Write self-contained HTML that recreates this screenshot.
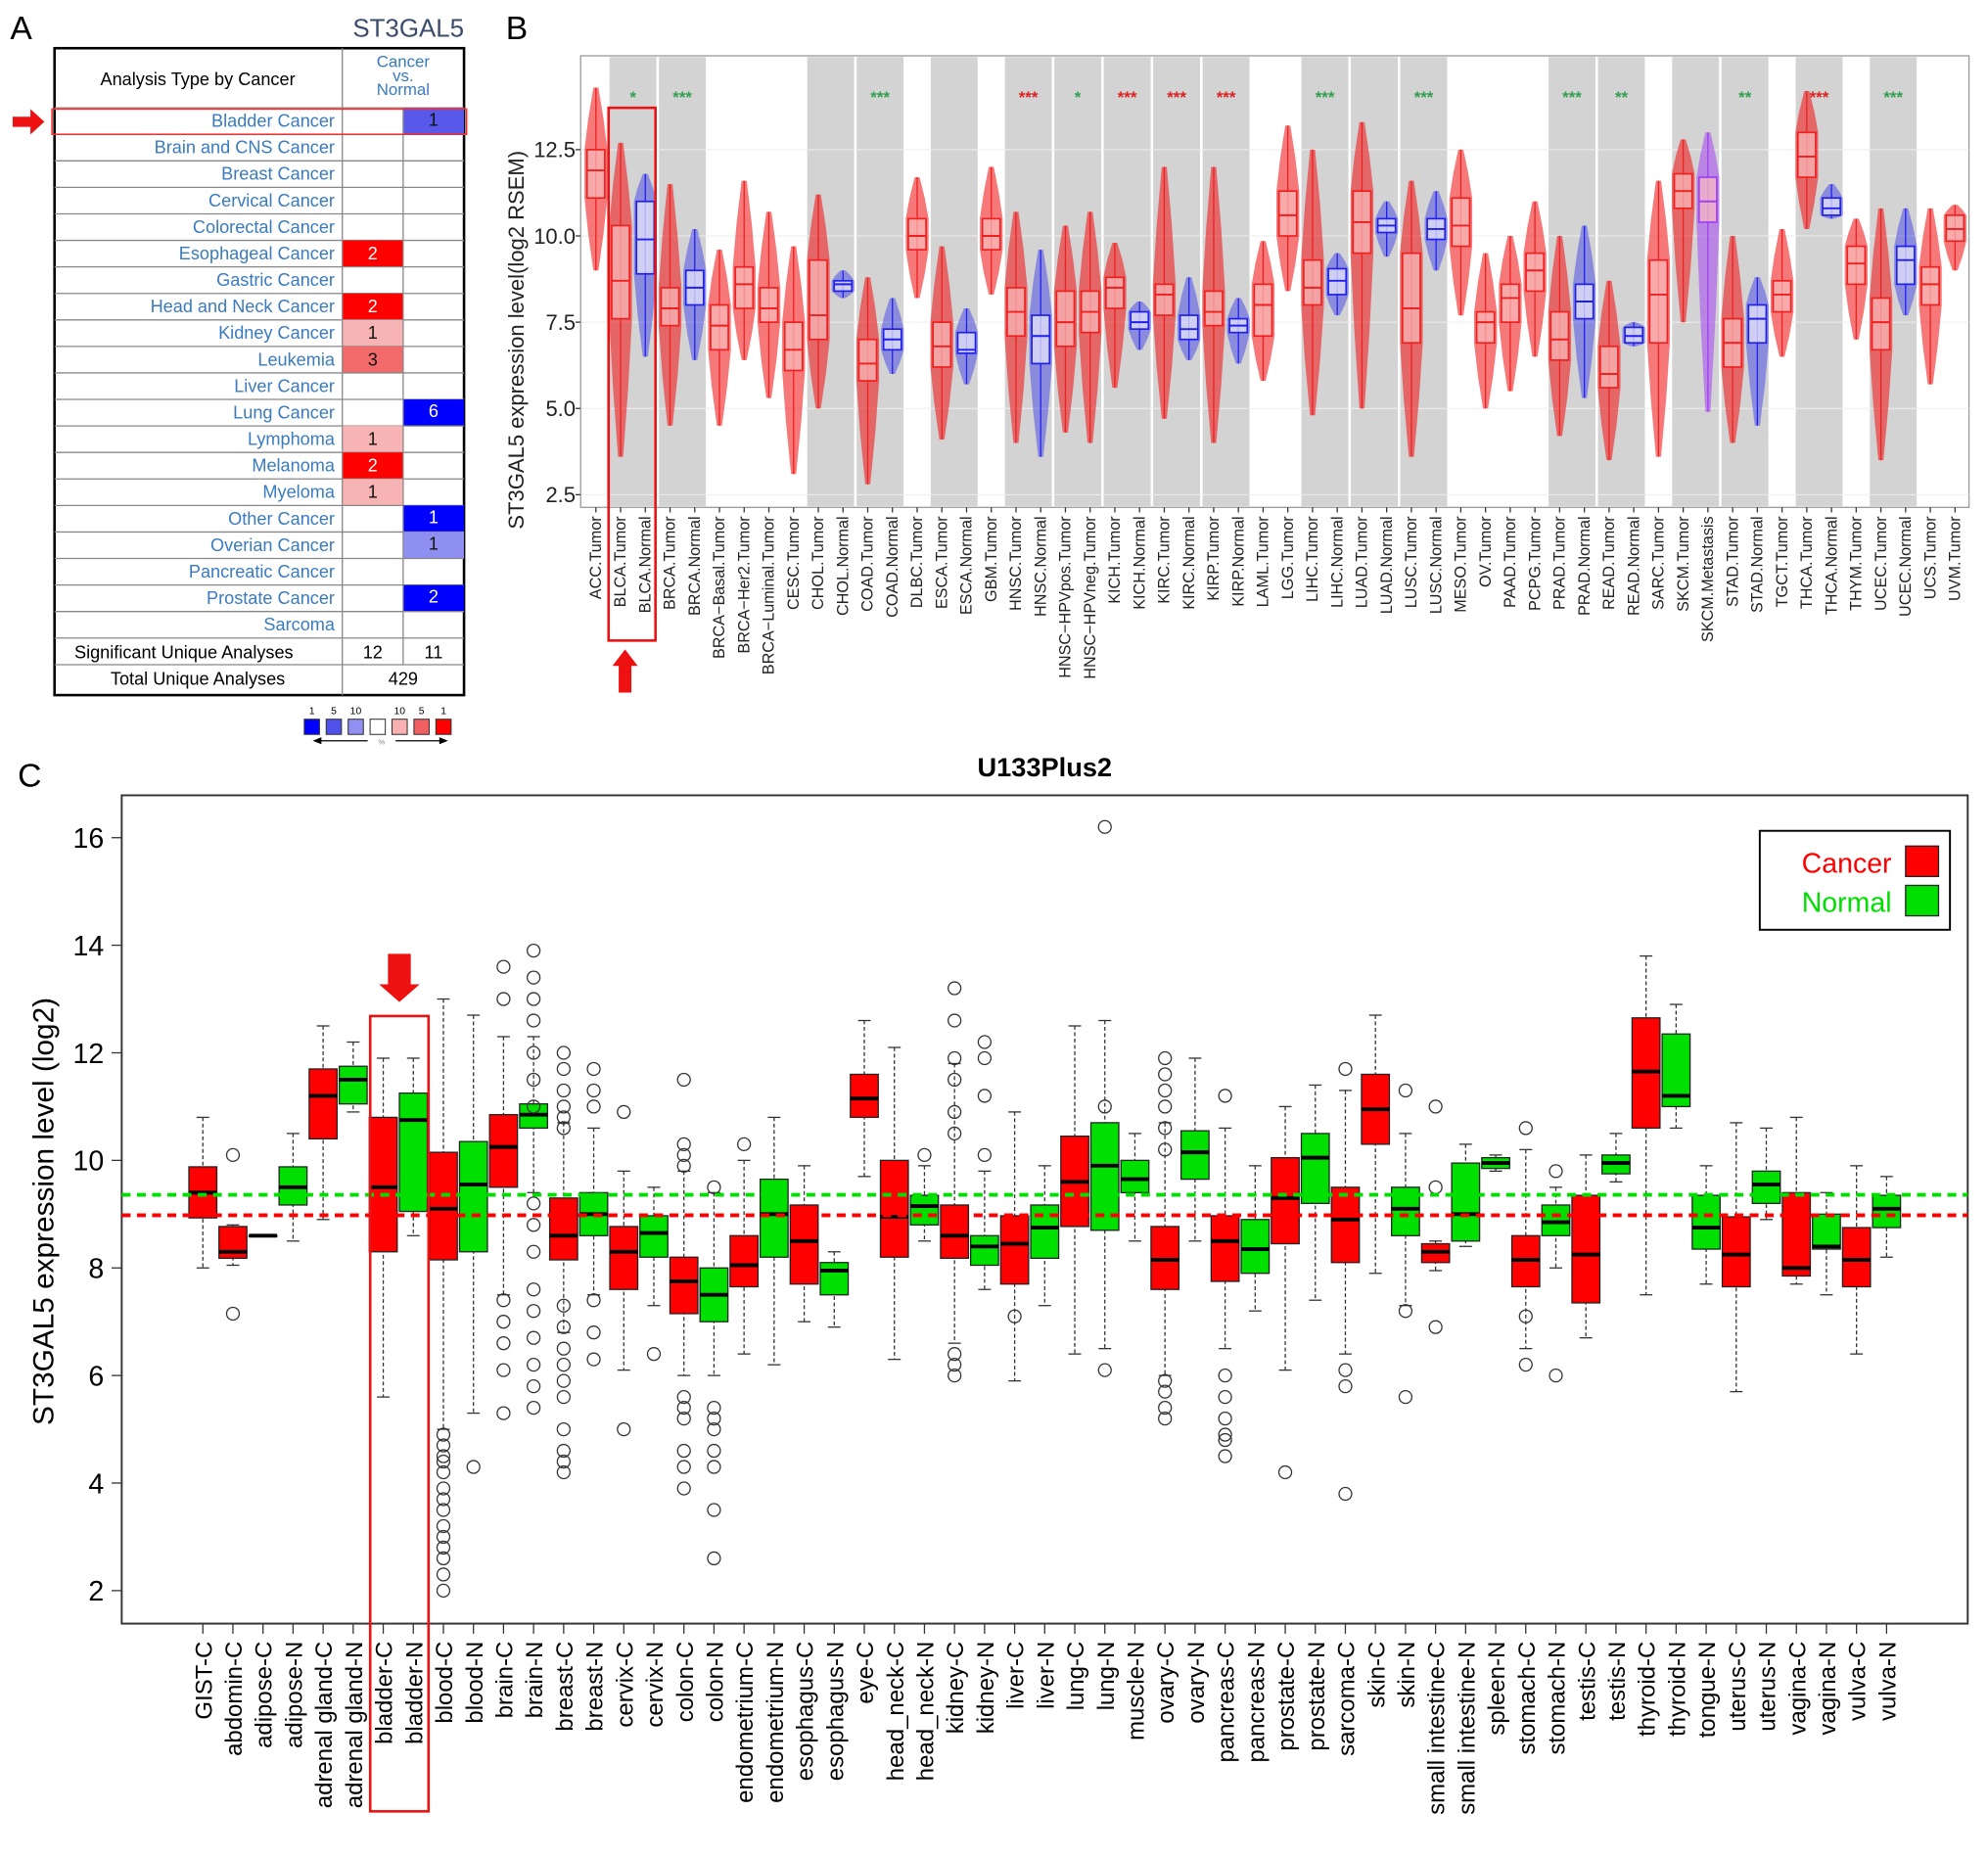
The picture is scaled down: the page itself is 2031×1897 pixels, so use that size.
<!DOCTYPE html>
<html><head><meta charset="utf-8"><style>
html,body{margin:0;padding:0;background:#fff;}
svg{display:block;font-family:"Liberation Sans",Arial,sans-serif;}
</style></head><body>
<svg id="fig" width="2031" height="1897" viewBox="0 0 1568 1464" preserveAspectRatio="none">
<g id="pa"></g>
<g id="pb"></g>
<g id="pc"></g>
</svg>
<script>
// ---------- Panel A data ----------
const aCancers=["Bladder Cancer","Brain and CNS Cancer","Breast Cancer","Cervical Cancer","Colorectal Cancer","Esophageal Cancer","Gastric Cancer","Head and Neck Cancer","Kidney Cancer","Leukemia","Liver Cancer","Lung Cancer","Lymphoma","Melanoma","Myeloma","Other Cancer","Overian Cancer","Pancreatic Cancer","Prostate Cancer","Sarcoma"];
const aUp=[0,0,0,0,0,2,0,2,1,3,0,0,1,2,1,0,0,0,0,0];
const aUpShade=[0,0,0,0,0,3,0,3,1,2,0,0,1,3,1,0,0,0,0,0];
const aDown=[1,0,0,0,0,0,0,0,0,0,0,6,0,0,0,1,1,0,2,0];
const aDownShade=[2,0,0,0,0,0,0,0,0,0,0,3,0,0,0,3,1,0,3,0];
// ---------- Panel B data ----------
const bCats=["ACC.Tumor","BLCA.Tumor","BLCA.Normal","BRCA.Tumor","BRCA.Normal","BRCA\u2212Basal.Tumor","BRCA\u2212Her2.Tumor","BRCA\u2212Luminal.Tumor","CESC.Tumor","CHOL.Tumor","CHOL.Normal","COAD.Tumor","COAD.Normal","DLBC.Tumor","ESCA.Tumor","ESCA.Normal","GBM.Tumor","HNSC.Tumor","HNSC.Normal","HNSC\u2212HPVpos.Tumor","HNSC\u2212HPVneg.Tumor","KICH.Tumor","KICH.Normal","KIRC.Tumor","KIRC.Normal","KIRP.Tumor","KIRP.Normal","LAML.Tumor","LGG.Tumor","LIHC.Tumor","LIHC.Normal","LUAD.Tumor","LUAD.Normal","LUSC.Tumor","LUSC.Normal","MESO.Tumor","OV.Tumor","PAAD.Tumor","PCPG.Tumor","PRAD.Tumor","PRAD.Normal","READ.Tumor","READ.Normal","SARC.Tumor","SKCM.Tumor","SKCM.Metastasis","STAD.Tumor","STAD.Normal","TGCT.Tumor","THCA.Tumor","THCA.Normal","THYM.Tumor","UCEC.Tumor","UCEC.Normal","UCS.Tumor","UVM.Tumor"];
const bMed=[11.9,8.7,9.9,7.9,8.5,7.4,8.6,7.9,6.7,7.7,8.6,6.3,7.0,10.0,6.8,6.7,10.0,7.8,7.1,7.5,7.8,8.5,7.5,8.3,7.3,7.8,7.4,8.0,10.6,8.5,8.7,10.4,10.3,7.9,10.2,10.3,7.5,8.2,9.0,7.0,8.1,6.0,7.1,8.3,11.3,11.0,6.9,7.6,8.3,12.3,10.8,9.2,7.5,9.3,8.6,10.2];
const bQ1=[11.1,7.6,8.9,7.4,8.0,6.7,7.9,7.5,6.1,7.0,8.4,5.8,6.7,9.6,6.2,6.6,9.6,7.1,6.3,6.8,7.2,7.9,7.3,7.7,7.0,7.4,7.2,7.1,10.0,8.0,8.3,9.5,10.1,6.9,9.9,9.7,6.9,7.5,8.4,6.4,7.6,5.6,6.9,6.9,10.8,10.4,6.2,6.9,7.8,11.7,10.6,8.6,6.7,8.6,8.0,9.85];
const bQ3=[12.5,10.3,11.0,8.5,9.0,8.0,9.1,8.5,7.5,9.3,8.7,7.0,7.3,10.5,7.5,7.2,10.5,8.5,7.7,8.4,8.4,8.8,7.8,8.6,7.7,8.4,7.6,8.6,11.3,9.3,9.05,11.3,10.5,9.5,10.5,11.1,7.8,8.6,9.5,7.8,8.6,6.8,7.35,9.3,11.8,11.7,7.6,8.0,8.7,13.0,11.1,9.7,8.2,9.7,9.1,10.6];
const bLo=[9.0,3.6,6.5,4.5,6.4,4.5,6.4,5.3,3.1,5.0,8.2,2.8,6.0,8.2,4.1,5.7,8.3,4.0,3.6,4.3,4.0,5.6,6.7,4.7,6.4,4.0,6.3,5.8,8.4,4.8,7.7,5.0,9.4,3.6,9.0,7.7,5.0,5.5,6.5,4.2,5.3,3.5,6.8,3.6,7.5,4.9,4.0,4.5,6.5,10.2,10.5,7.0,3.5,7.7,5.7,9.0];
const bHi=[14.3,12.7,11.8,11.5,10.2,9.6,11.6,10.7,9.7,11.2,9.0,8.8,8.2,11.7,9.7,7.9,12.0,10.7,9.6,10.3,10.7,9.8,8.1,12.0,8.8,12.0,8.2,9.85,13.2,12.5,9.5,13.3,11.0,11.6,11.3,12.5,9.5,10.0,11.0,10.0,10.3,8.7,7.5,11.6,12.8,13.0,10.0,8.8,10.2,14.2,11.5,10.5,10.8,10.8,10.8,10.9];
const bTicks=[2.5,5.0,7.5,10.0,12.5];
const bStarCats=["BLCA","BRCA","COAD","HNSC","HNSC\u2212HPV","KICH","KIRC","KIRP","LIHC","LUSC","PRAD","READ","STAD","THCA","UCEC"];
const bStars=["*","***","***","***","*","***","***","***","***","***","***","**","**","***","***"];
const bStarUp=[0,0,0,1,0,1,1,1,0,0,0,0,0,1,0];
// ---------- Panel C data ----------
const cCats=["GIST-C","abdomin-C","adipose-C","adipose-N","adrenal gland-C","adrenal gland-N","bladder-C","bladder-N","blood-C","blood-N","brain-C","brain-N","breast-C","breast-N","cervix-C","cervix-N","colon-C","colon-N","endometrium-C","endometrium-N","esophagus-C","esophagus-N","eye-C","head_neck-C","head_neck-N","kidney-C","kidney-N","liver-C","liver-N","lung-C","lung-N","muscle-N","ovary-C","ovary-N","pancreas-C","pancreas-N","prostate-C","prostate-N","sarcoma-C","skin-C","skin-N","small intestine-C","small intestine-N","spleen-N","stomach-C","stomach-N","testis-C","testis-N","thyroid-C","thyroid-N","tongue-N","uterus-C","uterus-N","vagina-C","vagina-N","vulva-C","vulva-N"];
const cMed=[9.4,8.3,8.6,9.5,11.2,11.5,9.5,10.75,9.1,9.55,10.25,10.85,8.6,9.0,8.3,8.65,7.75,7.5,8.05,9.0,8.5,7.95,11.15,8.95,9.15,8.6,8.4,8.45,8.75,9.6,9.9,9.65,8.15,10.15,8.5,8.35,9.3,10.05,8.9,10.95,9.1,8.3,9.0,9.95,8.15,8.85,8.25,9.95,11.65,11.2,8.75,8.25,9.55,8.0,8.4,8.15,9.1];
const cQ1=[8.93,8.18,8.6,9.17,10.4,11.05,8.3,9.05,8.15,8.3,9.5,10.6,8.15,8.6,7.6,8.2,7.15,7.0,7.65,8.2,7.7,7.5,10.8,8.2,8.8,8.18,8.05,7.7,8.18,8.77,8.7,9.4,7.6,9.65,7.75,7.9,8.45,9.2,8.1,10.3,8.6,8.1,8.5,9.85,7.65,8.6,7.35,9.75,10.6,11.0,8.35,7.65,9.2,7.85,8.35,7.65,8.75];
const cQ3=[9.88,8.77,8.6,9.88,11.7,11.75,10.8,11.25,10.15,10.35,10.85,11.05,9.3,9.4,8.77,8.97,8.2,8.0,8.6,9.65,9.17,8.1,11.6,10.0,9.35,9.17,8.6,8.97,9.17,10.45,10.7,10.0,8.77,10.55,8.97,8.9,10.05,10.5,9.5,11.6,9.5,8.45,9.95,10.05,8.6,9.17,9.35,10.1,12.65,12.35,9.35,8.95,9.8,9.4,9.0,8.75,9.35];
const cLo=[8.0,8.05,8.6,8.5,8.9,10.9,5.6,8.6,5.0,5.3,7.5,9.4,6.8,7.5,6.1,7.3,6.0,6.0,6.4,6.2,7.0,6.9,9.7,6.3,8.5,6.6,7.6,5.9,7.3,6.4,6.5,8.5,6.0,8.5,6.5,7.2,6.1,7.4,6.4,7.9,7.3,7.95,8.4,9.8,6.5,8.0,6.7,9.6,7.5,10.6,7.7,5.7,8.9,7.7,7.5,6.4,8.2];
const cHi=[10.8,8.8,8.6,10.5,12.5,12.2,11.9,11.9,13.0,12.7,12.3,12.3,10.7,10.6,9.8,9.5,9.8,9.4,10.0,10.8,9.9,8.3,12.6,12.1,9.9,11.8,9.8,10.9,9.9,12.5,12.6,10.5,10.7,11.9,10.6,9.9,11.0,11.4,11.3,12.7,10.5,8.5,10.3,10.1,10.2,9.5,10.1,10.5,13.8,12.9,9.9,10.7,10.6,10.8,9.4,9.9,9.7];
const cOutCat=[1,1,8,8,8,8,8,8,8,8,8,8,8,8,8,8,9,10,10,10,10,10,10,10,11,11,11,11,11,11,11,11,11,11,11,11,11,11,11,11,12,12,12,12,12,12,12,12,12,12,12,12,12,12,12,12,13,13,13,13,13,13,14,14,15,16,16,16,16,16,16,16,16,16,16,17,17,17,17,17,17,17,17,18,24,25,25,25,25,25,25,25,25,25,26,26,26,26,27,30,30,30,32,32,32,32,32,32,32,32,32,32,34,34,34,34,34,34,34,36,38,38,38,38,40,40,40,41,41,41,44,44,44,45,45];
const cOutVal=[10.1,7.15,2.0,2.3,2.8,3.2,3.5,3.9,4.2,4.5,4.7,4.9,3.0,2.6,3.7,4.4,4.3,13.6,13.0,7.4,7.0,6.6,6.1,5.3,13.9,13.4,13.0,12.6,12.0,11.5,11.0,9.2,8.8,8.3,7.6,7.2,6.7,6.2,5.8,5.4,12.0,11.7,11.3,11.0,10.8,10.6,7.3,6.9,6.5,6.2,5.9,5.6,5.0,4.6,4.4,4.2,11.7,11.3,11.0,7.4,6.8,6.3,10.9,5.0,6.4,11.5,10.3,10.1,9.9,5.6,5.4,5.2,4.6,4.3,3.9,9.5,5.4,5.2,4.6,4.3,3.5,2.6,5.0,10.3,10.1,13.2,12.6,11.9,11.5,10.9,10.5,6.4,6.2,6.0,12.2,11.9,11.2,10.1,7.1,11.0,16.2,6.1,5.9,11.9,11.6,11.3,11.0,10.6,10.2,5.7,5.4,5.2,4.9,11.2,6.0,5.6,5.2,4.8,4.5,4.2,3.8,11.7,6.1,5.8,5.6,11.3,7.2,6.9,11.0,9.5,7.1,10.6,6.2,6.0,9.8,7.8];
const cTicks=[2,4,6,8,10,12,14,16];
const cCancerMean=[8.98];
const cNormalMean=[9.36];

const NS="http://www.w3.org/2000/svg";
function mk(parent,tag,attrs,name,inter,text){
  const e=document.createElementNS(NS,tag);
  for(const k in attrs)e.setAttribute(k,attrs[k]);
  
  
  if(text!==undefined)e.textContent=text;
  parent.appendChild(e);return e;
}
const pa=document.getElementById('pa'),pb=document.getElementById('pb'),pc=document.getElementById('pc');

// ---------- Panel A ----------
(function(){
  mk(pa,'text',{x:8,y:31,'font-size':26},'panel-a-letter',false,'A');
  mk(pa,'text',{x:366,y:29,'font-size':20,fill:'#3b4b6b','text-anchor':'end'},'gene-title',false,'ST3GAL5');
  const x0=43,x1=366,c1=270,c2=318,top=38,h0=85,rh=20.9;
  mk(pa,'rect',{x:x0,y:top,width:x1-x0,height:510,fill:'#fff',stroke:'#000','stroke-width':2},'table-frame',false);
  mk(pa,'text',{x:156,y:67,'font-size':14,'text-anchor':'middle'},'header-analysis-type',false,'Analysis Type by Cancer');
  ['Cancer','vs.','Normal'].forEach((t,i)=>mk(pa,'text',{x:318,y:53+i*11,'font-size':13,fill:'#3a7bc0','text-anchor':'middle'},'header-cancer-vs-normal',false,t));
  const upCol=['#fff','#f8b4b4','#f26a6a','#ff0000'],dnCol=['#fff','#8f8ff2','#5858ea','#0000ff'];
  aCancers.forEach((c,i)=>{
    const y=h0+i*rh;
    mk(pa,'line',{x1:x0,x2:x1,y1:y,y2:y,stroke:'#888','stroke-width':1},'row-line',false);
    if(aUp[i]){mk(pa,'rect',{x:c1,y:y,width:c2-c1,height:rh,fill:upCol[aUpShade[i]]},'up-cell',false);
      mk(pa,'text',{x:294,y:y+15,'font-size':14,'text-anchor':'middle',fill:aUpShade[i]==3?'#fff':'#111'},'up-count',false,aUp[i]);}
    if(aDown[i]){mk(pa,'rect',{x:c2,y:y,width:x1-c2,height:rh,fill:dnCol[aDownShade[i]]},'down-cell',false);
      mk(pa,'text',{x:342,y:y+14,'font-size':14,'text-anchor':'middle',fill:aDownShade[i]==3?'#fff':'#111'},'down-count',false,aDown[i]);}
    mk(pa,'text',{x:264,y:y+15,'font-size':14,'text-anchor':'end',fill:'#3a7bc0'},'cancer-type-label',true,c);
  });
  const yS=h0+20*rh;
  mk(pa,'line',{x1:x0,x2:x1,y1:yS,y2:yS,stroke:'#888'},'row-line',false);
  mk(pa,'line',{x1:x0,x2:x1,y1:yS+21,y2:yS+21,stroke:'#888'},'row-line',false);
  mk(pa,'line',{x1:c1,x2:c1,y1:top,y2:548,stroke:'#888'},'col-line',false);
  mk(pa,'line',{x1:c2,x2:c2,y1:h0,y2:yS+21,stroke:'#888'},'col-line',false);
  mk(pa,'text',{x:145,y:yS+16,'font-size':14,'text-anchor':'middle'},'significant-label',false,'Significant Unique Analyses');
  mk(pa,'text',{x:294,y:yS+16,'font-size':14,'text-anchor':'middle'},'significant-up',false,'12');
  mk(pa,'text',{x:342,y:yS+16,'font-size':14,'text-anchor':'middle'},'significant-down',false,'11');
  mk(pa,'text',{x:156,y:yS+37,'font-size':14,'text-anchor':'middle'},'total-label',false,'Total Unique Analyses');
  mk(pa,'text',{x:318,y:yS+37,'font-size':14,'text-anchor':'middle'},'total-value',false,'429');
  mk(pa,'rect',{x:x0-2,y:h0+1,width:x1-x0+4,height:rh-1,fill:'none',stroke:'#f03030','stroke-width':1.2},'highlight-box',false);
  mk(pa,'path',{d:'M10 92 H24 V86 L35 96 L24 106 V100 H10 Z',fill:'#ee1111'},'highlight-arrow',false);
  const lc=['#0000ff','#5050ea','#9090f2','#fff','#f8b0b0','#f06060','#ff0000'],ll=['1','5','10','','10','5','1'];
  lc.forEach((c,i)=>{const x=240+i*17.3;mk(pa,'rect',{x:x,y:567,width:12,height:12,fill:c,stroke:'#333','stroke-width':0.8},'legend-swatch',false);
    mk(pa,'text',{x:x+6,y:563,'font-size':8,'text-anchor':'middle'},'legend-tick',false,ll[i]);});
  mk(pa,'path',{d:'M248 584 H290 M248 584 l5 -2 v4 z M312 584 H352 M352 584 l-5 -2 v4 z',stroke:'#000','stroke-width':1},'legend-arrows',false);
  mk(pa,'text',{x:301,y:587,'font-size':6,'text-anchor':'middle',fill:'#888'},'legend-percent',false,'%');
})();

// ---------- Panel B ----------
(function(){
  const L=458,R=1553,T=44,B=400,n=bCats.length;
  const X=i=>470+i*(1542-470)/(n-1), Y=v=>390-(v-2.5)*27.2, w=(1542-470)/(n-1);
  mk(pb,'text',{x:399,y:31,'font-size':26},'panel-b-letter',false,'B');
  mk(pb,'rect',{x:L,y:T,width:R-L,height:B-T,fill:'#fff',stroke:'#999','stroke-width':1},'plot-b-area',false);
  const grp=bCats.map(c=>c.replace(/\.(Tumor|Normal|Metastasis)$/,'').replace(/\u2212HPV(pos|neg)/,'\u2212HPV'));
  let i=0;
  while(i<n){let j=i;while(j+1<n&&grp[j+1]===grp[i])j++;
    if(j>i&&!/BRCA\u2212/.test(bCats[i]))mk(pb,'rect',{x:X(i)-w/2+1,y:T+1,width:(j-i+1)*w-2,height:B-T-2,fill:'#d3d3d3'},'group-band',false);
    i=j+1;}
  bTicks.forEach(t=>{mk(pb,'line',{x1:L,x2:R,y1:Y(t),y2:Y(t),stroke:'#eee','stroke-width':0.8},'grid-line',false);
    mk(pb,'line',{x1:L-4,x2:L,y1:Y(t),y2:Y(t),stroke:'#333'},'y-tick',false);
    mk(pb,'text',{x:L-4,y:Y(t)+6,'font-size':17,'text-anchor':'end',fill:'#222'},'y-tick-label',false,t.toFixed(1));});
  mk(pb,'text',{transform:'translate(413,268) rotate(-90)','font-size':17,'text-anchor':'middle',fill:'#222'},'y-axis-title',false,'ST3GAL5 expression level(log2 RSEM)');
  bCats.forEach((c,k)=>{
    const x=X(k),isN=/Normal/.test(c),isM=/Metastasis/.test(c);
    const col=isN?'#2020ee':(isM?'#a040f0':'#ee2020');
    const cl=isN?'rgba(50,50,235,0.45)':(isM?'rgba(170,80,240,0.6)':'rgba(240,30,30,0.6)');
    const yh=Y(bHi[k]),yl=Y(bLo[k]),y3=Y(bQ3[k]),y1=Y(bQ1[k]);
    const ym3=(yh+y3)/2,ym1=(yl+y1)/2;
    mk(pb,'path',{d:`M${x-2} ${yh} L${x+2} ${yh} L${x+6} ${ym3} L${x+9} ${y3} L${x+9} ${y1} L${x+6} ${ym1} L${x+2} ${yl} L${x-2} ${yl} L${x-6} ${ym1} L${x-9} ${y1} L${x-9} ${y3} L${x-6} ${ym3} Z`,fill:cl},'jitter-cloud',false);
    mk(pb,'line',{x1:x,x2:x,y1:yh,y2:yl,stroke:col,'stroke-width':1},'whisker',false);
    mk(pb,'rect',{x:x-7,y:y3,width:14,height:y1-y3,fill:isN?'rgba(230,230,250,0.75)':'rgba(250,190,190,0.7)',stroke:col,'stroke-width':1.3},'box-'+c.toLowerCase(),false);
    mk(pb,'line',{x1:x-7,x2:x+7,y1:Y(bMed[k]),y2:Y(bMed[k]),stroke:col,'stroke-width':1.5},'median',false);
    mk(pb,'line',{x1:x,x2:x,y1:B,y2:B+4,stroke:'#333'},'x-tick',false);
    mk(pb,'text',{transform:`translate(${x+4},${B+7}) rotate(-90)`,'font-size':12.5,'text-anchor':'end',fill:'#222'},'x-tick-label',false,c);
  });
  bStarCats.forEach((g,s)=>{
    const idx=grp.map((v,k)=>v===g?k:-1).filter(k=>k>=0);
    const xc=(X(idx[0])+X(idx[idx.length-1]))/2;
    mk(pb,'text',{x:xc,y:81,'font-size':13,'text-anchor':'middle',fill:bStarUp[s]?'#e02020':'#30a050','font-weight':'bold'},'significance-stars',false,bStars[s]);
  });
  mk(pb,'rect',{x:480,y:85,width:37,height:420,fill:'none',stroke:'#ee1111','stroke-width':2},'blca-highlight-box',false);
  mk(pb,'path',{d:'M493 512 L503 525 H498 V546 H488 V525 H483 Z',fill:'#ee1111'},'blca-arrow',false);
})();

// ---------- Panel C ----------
(function(){
  const L=96,R=1552,T=627,B=1280,n=cCats.length;
  const X=i=>160+i*(1488-160)/(n-1), Y=v=>1254-(v-2)*42.4;
  mk(pc,'text',{x:14,y:620,'font-size':26},'panel-c-letter',false,'C');
  mk(pc,'text',{x:824,y:612,'font-size':21,'font-weight':'bold','text-anchor':'middle'},'chart-title',false,'U133Plus2');
  mk(pc,'rect',{x:L,y:T,width:R-L,height:B-T,fill:'#fff',stroke:'#333','stroke-width':1.5},'plot-c-area',false);
  cTicks.forEach(t=>{mk(pc,'line',{x1:L-8,x2:L,y1:Y(t),y2:Y(t),stroke:'#333'},'y-tick',false);
    mk(pc,'text',{x:L-14,y:Y(t)+8,'font-size':22,'text-anchor':'end'},'y-tick-label',false,t);});
  mk(pc,'text',{transform:'translate(42,955) rotate(-90)','font-size':23,'text-anchor':'middle'},'y-axis-title',false,'ST3GAL5 expression level (log2)');
  cCats.forEach((c,k)=>{
    const x=X(k),col=/-N$/.test(c)?'#00e000':'#ff0000';
    mk(pc,'line',{x1:x,x2:x,y1:Y(cHi[k]),y2:Y(cLo[k]),stroke:'#333','stroke-dasharray':'3,2','stroke-width':1},'whisker',false);
    mk(pc,'line',{x1:x-5,x2:x+5,y1:Y(cHi[k]),y2:Y(cHi[k]),stroke:'#333'},'whisker-cap',false);
    mk(pc,'line',{x1:x-5,x2:x+5,y1:Y(cLo[k]),y2:Y(cLo[k]),stroke:'#333'},'whisker-cap',false);
    mk(pc,'rect',{x:x-11,y:Y(cQ3[k]),width:22,height:Math.max(0.5,Y(cQ1[k])-Y(cQ3[k])),fill:col,stroke:'#222','stroke-width':1},'box-'+c.replace(/\s+/g,'-').toLowerCase(),false);
    mk(pc,'line',{x1:x-11,x2:x+11,y1:Y(cMed[k]),y2:Y(cMed[k]),stroke:'#000','stroke-width':3},'median',false);
    mk(pc,'line',{x1:x,x2:x,y1:B,y2:B+8,stroke:'#333'},'x-tick',false);
    mk(pc,'text',{transform:`translate(${x+7},${B+14}) rotate(-90)`,'font-size':18.5,'text-anchor':'end'},'x-tick-label',false,c);
  });
  cOutCat.forEach((k,j)=>mk(pc,'circle',{cx:X(k),cy:Y(cOutVal[j]),r:5,fill:'none',stroke:'#333','stroke-width':1},'outlier',false));
  mk(pc,'line',{x1:L,x2:R,y1:Y(cNormalMean[0]),y2:Y(cNormalMean[0]),stroke:'#00e000','stroke-width':3,'stroke-dasharray':'7,5'},'normal-mean-line',false);
  mk(pc,'line',{x1:L,x2:R,y1:Y(cCancerMean[0]),y2:Y(cCancerMean[0]),stroke:'#ff0000','stroke-width':3,'stroke-dasharray':'7,5'},'cancer-mean-line',false);
  const lg=mk(pc,'g',{},'legend',false);
  mk(lg,'rect',{x:1388,y:655,width:150,height:78,fill:'#fff',stroke:'#000','stroke-width':1.5},'legend-box',false);
  mk(lg,'text',{x:1492,y:688,'font-size':22,fill:'#ff0000','text-anchor':'end'},'legend-cancer-label',false,'Cancer');
  mk(lg,'rect',{x:1503,y:667,width:26,height:24,fill:'#ff0000',stroke:'#222'},'legend-cancer-swatch',false);
  mk(lg,'text',{x:1492,y:719,'font-size':22,fill:'#00e000','text-anchor':'end'},'legend-normal-label',false,'Normal');
  mk(lg,'rect',{x:1503,y:698,width:26,height:24,fill:'#00e000',stroke:'#222'},'legend-normal-swatch',false);
  mk(pc,'rect',{x:292,y:801,width:46,height:627,fill:'none',stroke:'#ee1111','stroke-width':2},'bladder-highlight-box',false);
  mk(pc,'path',{d:'M306 752 H324 V776 H331 L315 790 L299 776 H306 Z',fill:'#ee1111'},'bladder-arrow',false);
})();
</script>
</body></html>
